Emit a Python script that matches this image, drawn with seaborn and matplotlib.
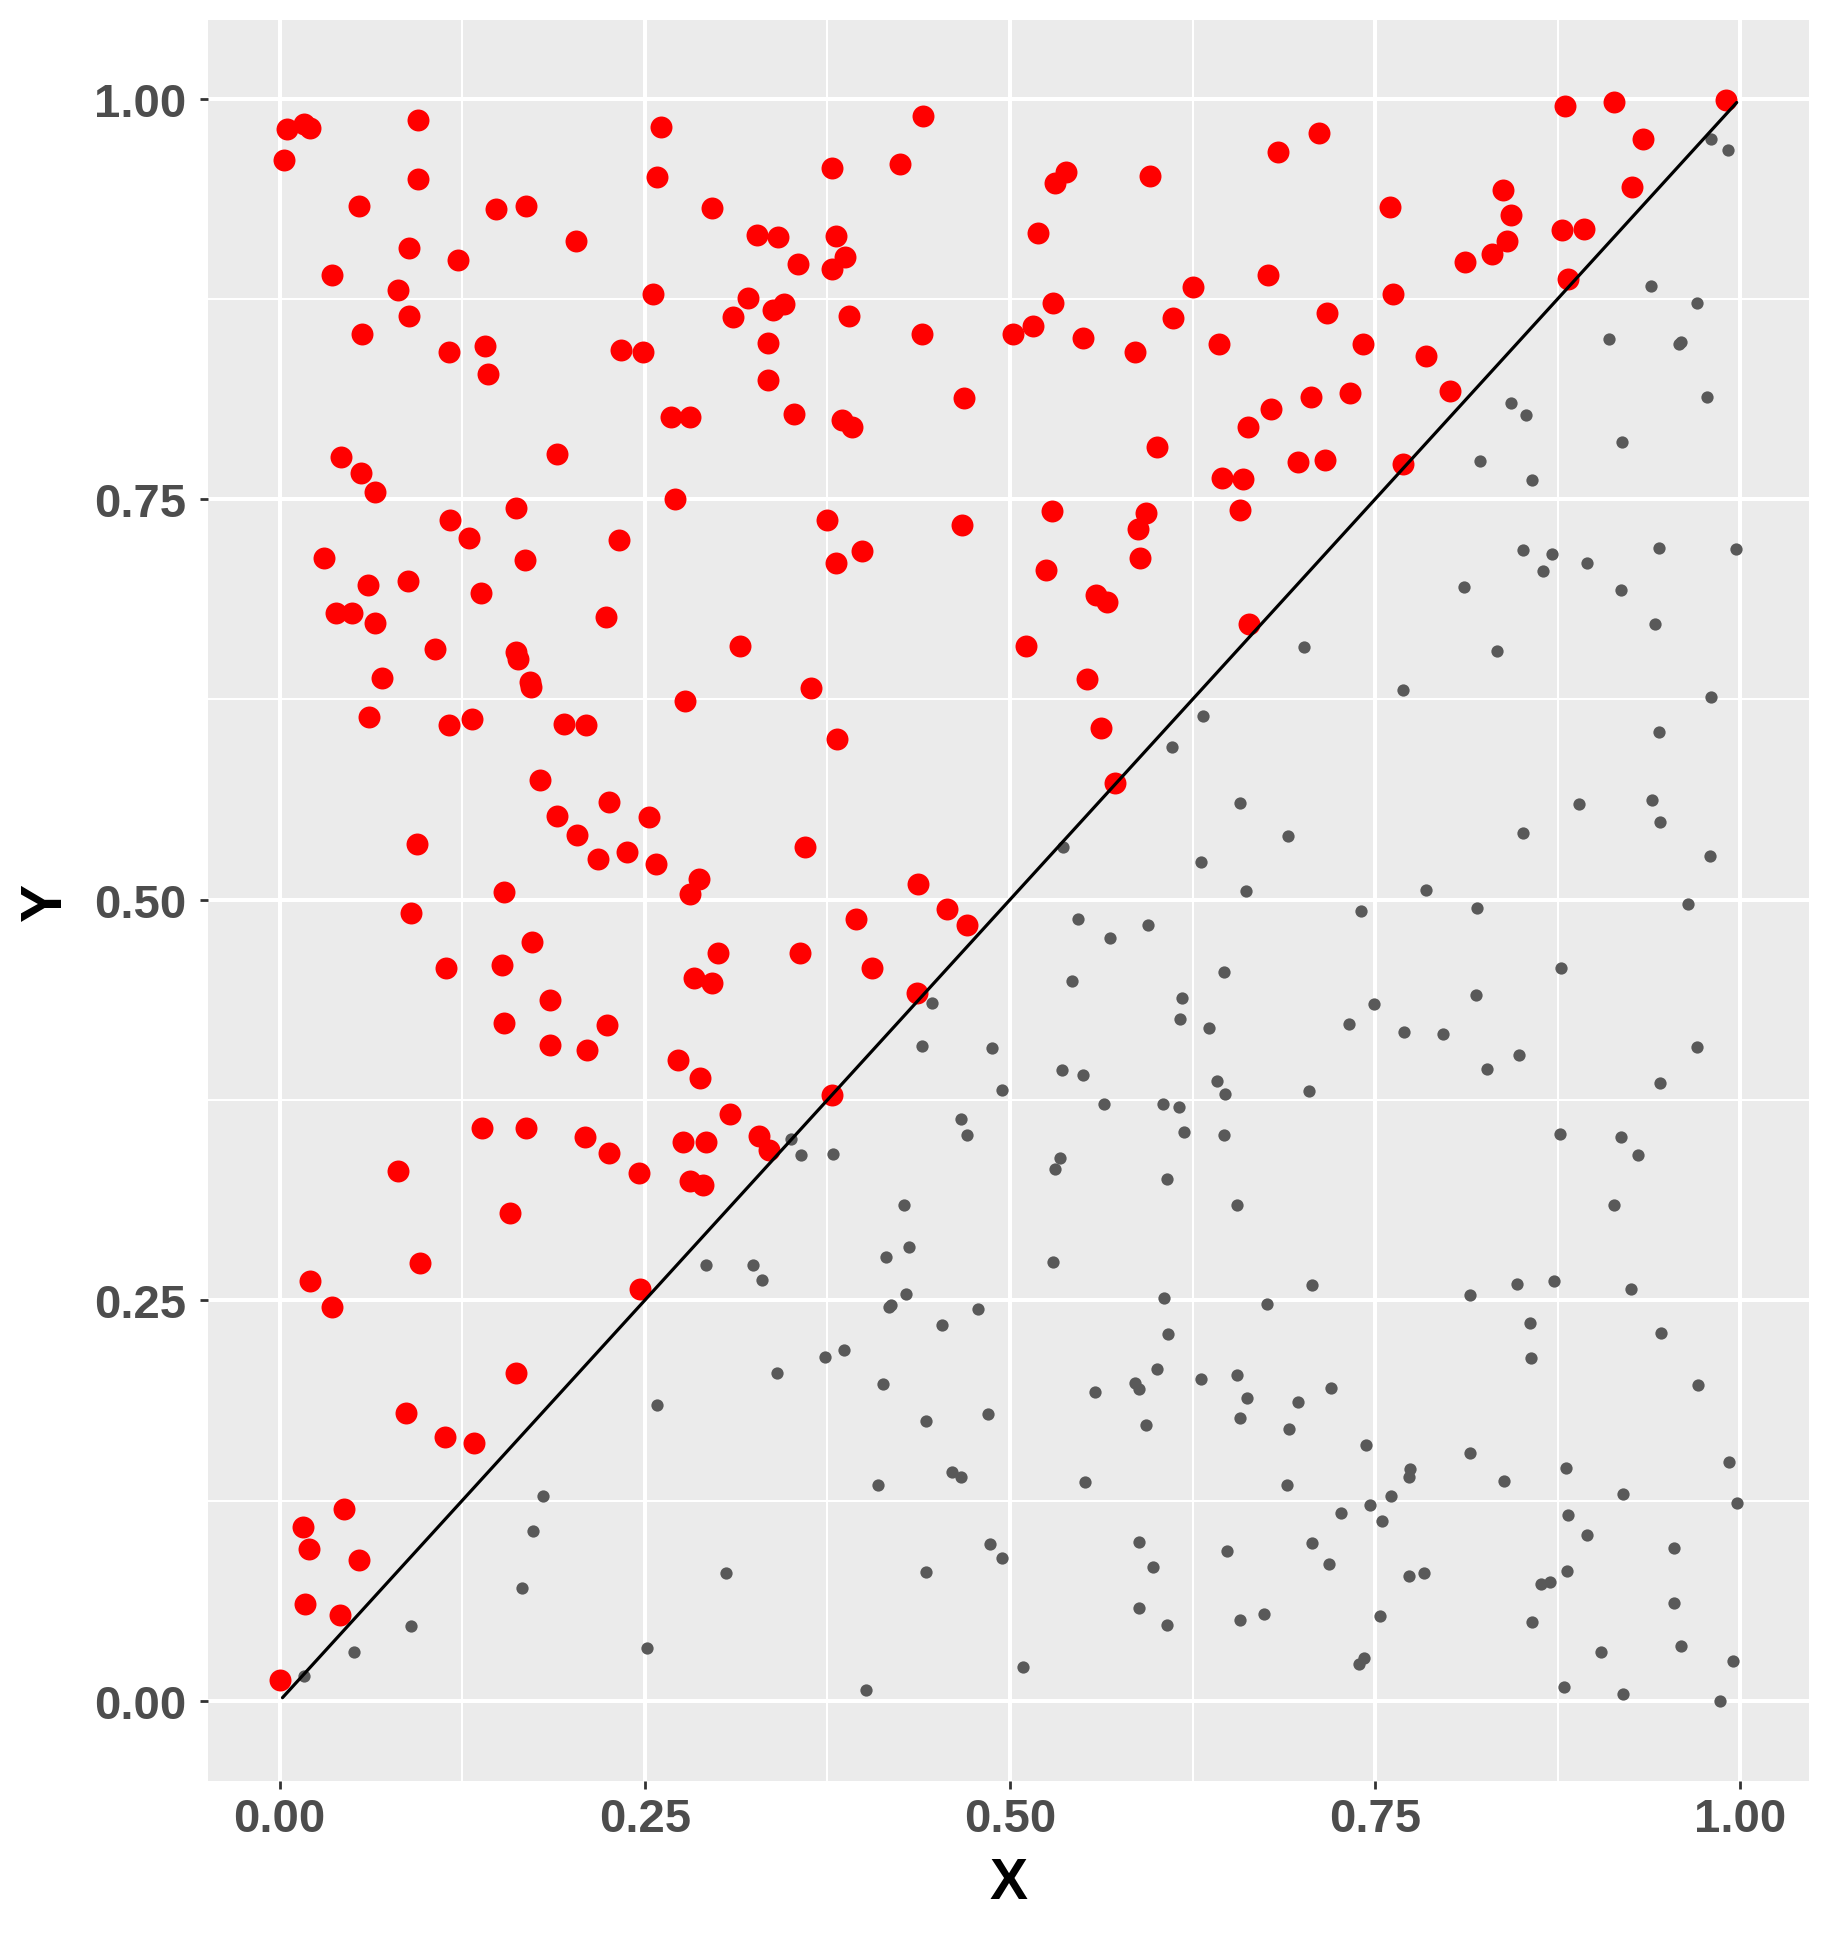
import numpy as np
import pandas as pd
import matplotlib
matplotlib.use("Agg")
import matplotlib.pyplot as plt
import seaborn as sns

# ---------------- data ----------------
red_x = [0.0054, 0.0168, 0.0208, 0.0031, 0.095, 0.0945, 0.0546, 0.148, 0.169, 0.261, 0.2585, 0.296,
         0.2027, 0.327, 0.341, 0.355, 0.0888, 0.1224, 0.0359, 0.0813, 0.0886, 0.0567, 0.1163, 0.1408,
         0.143, 0.234, 0.2486, 0.2554, 0.3204, 0.3107, 0.338, 0.345, 0.3344, 0.3344, 0.352, 0.2677,
         0.2807, 0.1897, 0.042, 0.0558, 0.065, 0.2706,
         0.4403, 0.378, 0.4245, 0.5384, 0.5309, 0.5958, 0.6835, 0.7113, 0.5191, 0.381, 0.387, 0.378,
         0.6764, 0.625, 0.5295, 0.3899, 0.4396, 0.5019, 0.516, 0.55, 0.5856, 0.6116, 0.643, 0.7172,
         0.3851, 0.3922, 0.4684, 0.6005, 0.6627, 0.6788, 0.7059, 0.645, 0.6592, 0.697, 0.716,
         0.8797, 0.9133, 0.990, 0.9334, 0.9257, 0.8378, 0.8433, 0.7605, 0.8776, 0.8927, 0.8406, 0.8303,
         0.8118, 0.8817, 0.7624, 0.7418, 0.7845, 0.7331, 0.8015, 0.7692,
         0.1621, 0.117, 0.13, 0.2327, 0.0305, 0.1678, 0.0603, 0.0881, 0.1382, 0.0385, 0.0499, 0.065,
         0.2233, 0.1066, 0.1621, 0.1633, 0.1713, 0.172, 0.0704, 0.3152, 0.2776, 0.0614, 0.1163, 0.1314,
         0.1945, 0.2096, 0.1786, 0.1902, 0.2254, 0.2035, 0.2531, 0.2181, 0.2377, 0.2576, 0.2871, 0.2812,
         0.0943, 0.1538,
         0.375, 0.4675, 0.3807, 0.3986, 0.5288, 0.5929, 0.5875, 0.5887, 0.6576, 0.5245, 0.5592, 0.5663,
         0.6634, 0.5108, 0.5526, 0.3641, 0.5625, 0.3814, 0.5717, 0.3599, 0.4368,
         0.0903, 0.1727, 0.1141, 0.1522, 0.3003, 0.2836, 0.2961, 0.185, 0.1534, 0.185, 0.2103, 0.2242,
         0.2727, 0.2878, 0.3084, 0.1389, 0.169, 0.2089, 0.2252, 0.246, 0.276, 0.2918, 0.2812, 0.2902,
         0.3282, 0.3351, 0.0813, 0.1574, 0.0964, 0.2465, 0.021, 0.0359,
         0.3946, 0.4566, 0.4705, 0.3564, 0.4054, 0.4361, 0.3781,
         0.1621, 0.0863, 0.113, 0.1328, 0.0442, 0.0163, 0.0203, 0.0546, 0.0177, 0.0416, 0.0005]
red_y = [0.981, 0.984, 0.9817, 0.9617, 0.9865, 0.950, 0.933, 0.931, 0.933, 0.982, 0.951, 0.9317,
         0.911, 0.9146, 0.9133, 0.897, 0.9067, 0.899, 0.8896, 0.8808, 0.864, 0.853, 0.842, 0.8454,
         0.828, 0.843, 0.842, 0.878, 0.8754, 0.8635, 0.868, 0.872, 0.8477, 0.8246, 0.803, 0.801,
         0.801, 0.778, 0.7765, 0.7665, 0.7546, 0.75,
         0.989, 0.9565, 0.959, 0.954, 0.947, 0.9515, 0.9667, 0.9783, 0.9158, 0.914, 0.901, 0.8935,
         0.8898, 0.8823, 0.8723, 0.864, 0.853, 0.853, 0.8583, 0.8504, 0.842, 0.863, 0.8467, 0.866,
         0.7994, 0.795, 0.813, 0.7827, 0.7948, 0.806, 0.8135, 0.763, 0.7623, 0.7733, 0.7744,
         0.9952, 0.998, 0.999, 0.975, 0.9446, 0.943, 0.9275, 0.932, 0.9177, 0.9185, 0.9108, 0.903,
         0.8977, 0.8875, 0.878, 0.8467, 0.839, 0.816, 0.8177, 0.7717,
         0.7442, 0.7371, 0.7257, 0.7246, 0.713, 0.7117, 0.6966, 0.6991, 0.6912, 0.6787, 0.6791, 0.6725,
         0.6762, 0.6567, 0.6544, 0.6504, 0.6357, 0.6325, 0.6386, 0.6585, 0.6238, 0.6142, 0.6093, 0.613,
         0.6097, 0.6088, 0.575, 0.5525, 0.5608, 0.5402, 0.5515, 0.5255, 0.53, 0.5225, 0.513, 0.5036,
         0.5346, 0.5047,
         0.7371, 0.734, 0.7103, 0.7178, 0.7427, 0.7411, 0.7315, 0.7134, 0.7433, 0.7055, 0.6903, 0.686,
         0.6718, 0.6585, 0.6375, 0.6319, 0.6072, 0.6001, 0.5727, 0.5327, 0.5095,
         0.4916, 0.4738, 0.4571, 0.4592, 0.4667, 0.4513, 0.4481, 0.4372, 0.4232, 0.4094, 0.4065, 0.4215,
         0.4002, 0.3889, 0.3665, 0.3577, 0.3577, 0.3519, 0.3418, 0.3293, 0.3487, 0.3487, 0.3243, 0.3222,
         0.3527, 0.3437, 0.3305, 0.3042, 0.273, 0.2573, 0.2623, 0.2458,
         0.4881, 0.4944, 0.4839, 0.4669, 0.4571, 0.4418, 0.3782,
         0.2046, 0.1796, 0.1648, 0.161, 0.1198, 0.1083, 0.0946, 0.0879, 0.0604, 0.0538, 0.0129]

grey_x = [0.9796, 0.9913, 0.9385, 0.97, 0.9103, 0.9577, 0.9595, 0.9769, 0.8431, 0.8534, 0.9193, 0.8218, 0.8573,
          0.701, 0.6323, 0.6111, 0.6576, 0.6906, 0.6309, 0.6618, 0.5366,
          0.8513, 0.8712, 0.865, 0.8952, 0.9446, 0.9973, 0.8108, 0.9186, 0.9419, 0.8335, 0.769, 0.9796,
          0.944, 0.8898, 0.9398, 0.9453, 0.8513, 0.979, 0.7848,
          0.3504, 0.2916, 0.324, 0.3301,
          0.4467, 0.4401, 0.488, 0.4946, 0.4665, 0.4708, 0.3571, 0.3788, 0.5467, 0.5948, 0.5682, 0.5425,
          0.6467, 0.6179, 0.6165, 0.6363, 0.5356, 0.55, 0.642, 0.6474, 0.7045, 0.5644, 0.6045, 0.6158,
          0.6193, 0.6462, 0.5344, 0.5309, 0.6078, 0.6557, 0.4276, 0.4309, 0.4153, 0.5297, 0.7071, 0.429,
          0.4186, 0.4175, 0.4783, 0.6057, 0.6762,
          0.7402, 0.8198, 0.9645, 0.8774, 0.8191, 0.7491, 0.7319, 0.7697, 0.7964, 0.8486, 0.8266, 0.97,
          0.9453, 0.8767, 0.9186, 0.9302, 0.9138, 0.815, 0.8472, 0.8726, 0.9254,
          0.2587, 0.3403, 0.1803, 0.1734, 0.1661, 0.3055, 0.0898, 0.0508, 0.017, 0.2512,
          0.4538, 0.3733, 0.3866, 0.4132, 0.4427, 0.4847, 0.4099, 0.4606, 0.4665, 0.6085, 0.601, 0.5583,
          0.5856, 0.588, 0.5934, 0.5514, 0.6311, 0.6557, 0.6625, 0.6575, 0.6974, 0.6913, 0.6899, 0.4866,
          0.4948, 0.4427, 0.4016, 0.5092, 0.588, 0.5981, 0.588, 0.6078, 0.6488, 0.7071, 0.6575, 0.6736,
          0.8561, 0.8568, 0.946, 0.9707, 0.7196, 0.7436, 0.815, 0.7738, 0.7731, 0.8383, 0.8808, 0.7608,
          0.92, 0.992, 0.9975, 0.7463, 0.7264, 0.7546, 0.8822, 0.8952, 0.9543, 0.7182, 0.7731, 0.7834,
          0.8632, 0.8699, 0.8815, 0.9543, 0.7532, 0.8575, 0.9597, 0.9049, 0.9947, 0.7422, 0.7388, 0.8795,
          0.92, 0.9858]
grey_y = [0.9748, 0.968, 0.883, 0.8723, 0.85, 0.847, 0.8483, 0.8135, 0.81, 0.8025, 0.7856, 0.7737, 0.7619,
          0.6577, 0.6147, 0.5953, 0.5604, 0.5398, 0.5236, 0.5055, 0.533,
          0.7182, 0.7157, 0.7049, 0.7099, 0.7192, 0.7188, 0.6949, 0.693, 0.6718, 0.6552, 0.6309, 0.6263,
          0.6045, 0.5598, 0.5623, 0.5486, 0.5415, 0.5273, 0.5061,
          0.3504, 0.272, 0.272, 0.2626,
          0.4356, 0.4086, 0.4073, 0.3812, 0.363, 0.3533, 0.3404, 0.3414, 0.4877, 0.4839, 0.4764, 0.4494,
          0.455, 0.4389, 0.4255, 0.4199, 0.3938, 0.3906, 0.3868, 0.3787, 0.3805, 0.3722, 0.3722, 0.3709,
          0.3552, 0.3533, 0.3391, 0.3322, 0.3257, 0.3096, 0.3096, 0.2831, 0.2768, 0.2738, 0.2594, 0.2538,
          0.2471, 0.246, 0.2448, 0.2517, 0.2475,
          0.4929, 0.4946, 0.4971, 0.4571, 0.4406, 0.4349, 0.4226, 0.4174, 0.4163, 0.4031, 0.3944, 0.4082,
          0.3856, 0.354, 0.3517, 0.3408, 0.3096, 0.2531, 0.26, 0.2619, 0.2573,
          0.1844, 0.2044, 0.1281, 0.1063, 0.0704, 0.08, 0.0469, 0.0306, 0.0156, 0.0331,
          0.2348, 0.2148, 0.2188, 0.1979, 0.1748, 0.1788, 0.1348, 0.1431, 0.1398, 0.2292, 0.2073, 0.1929,
          0.1981, 0.1944, 0.1723, 0.1367, 0.2006, 0.2031, 0.1888, 0.1767, 0.1867, 0.1698, 0.1348, 0.0979,
          0.0892, 0.0804, 0.0069, 0.021, 0.0992, 0.0838, 0.0579, 0.0475, 0.0938, 0.0988, 0.0504, 0.0542,
          0.2356, 0.2138, 0.2294, 0.1973, 0.195, 0.1594, 0.1544, 0.145, 0.1398, 0.1375, 0.1456, 0.1281,
          0.1294, 0.1488, 0.1238, 0.1225, 0.1175, 0.1125, 0.1163, 0.1038, 0.0956, 0.0854, 0.0781, 0.0798,
          0.0731, 0.0744, 0.0813, 0.0613, 0.0531, 0.0494, 0.0344, 0.0306, 0.025, 0.0267, 0.0229, 0.0088,
          0.0042, 0.0]

line_x = [0.002, 0.9975]
line_y = [0.002, 0.9975]

tick_values = [0.0, 0.25, 0.5, 0.75, 1.0]
tick_labels = ["0.00", "0.25", "0.50", "0.75", "1.00"]
minor_values = [0.125, 0.375, 0.625, 0.875]

# ---------------- plot ----------------
sns.set_theme(style="darkgrid")
plt.rcParams['font.family'] = ['Liberation Sans', 'DejaVu Sans']

W, H = 1831, 1940
fig = plt.figure(figsize=(W / 100, H / 100), dpi=100)
left, right, top, bottom = 208, 1809, 21, 1782
ax = fig.add_axes([left / W, 1 - bottom / H, (right - left) / W, (bottom - top) / H])
ax.set_facecolor('#EBEBEB')

red_df = pd.DataFrame({"x": red_x, "y": red_y})
grey_df = pd.DataFrame({"x": grey_x, "y": grey_y})
line_df = pd.DataFrame({"x": line_x, "y": line_y})

sns.scatterplot(data=grey_df, x="x", y="y", color="#595959", s=78, linewidth=0, ax=ax, zorder=3)
sns.scatterplot(data=red_df, x="x", y="y", color="#FF0000", s=250, linewidth=0, ax=ax, zorder=3)
sns.lineplot(data=line_df, x="x", y="y", color="black", linewidth=2.3, estimator=None, ax=ax, zorder=4)

ax.set_xlim(-0.049, 1.047)
ax.set_ylim(-0.05, 1.049)

ax.set_xticks(tick_values)
ax.set_yticks(tick_values)
ax.set_xticks(minor_values, minor=True)
ax.set_yticks(minor_values, minor=True)
ax.set_xticklabels(tick_labels, fontweight='bold')
ax.set_yticklabels(tick_labels, fontweight='bold')

ax.grid(which='major', color='white', linewidth=2.9)
ax.grid(which='minor', color='white', linewidth=1.45)
ax.set_axisbelow(True)
for s in ax.spines.values():
    s.set_visible(False)

ax.tick_params(which='major', length=5.8, width=2.0, color='#333333',
               labelsize=34, labelcolor='#4D4D4D', bottom=True, left=True)
ax.tick_params(axis='x', which='major', pad=6)
ax.tick_params(axis='y', which='major', pad=10)
ax.tick_params(which='minor', length=0)

ax.set_xlabel('X', fontsize=41, fontweight='bold', color='black')
ax.set_ylabel('Y', fontsize=41, fontweight='bold', color='black')
ax.xaxis.set_label_coords(0.5, (bottom - 1884) / (bottom - top))
ax.xaxis.label.set_va('center')
ax.yaxis.set_label_coords((46 - left) / (right - left), 0.5)
ax.yaxis.label.set_va('center')

fig.savefig('out.png', dpi=100)
